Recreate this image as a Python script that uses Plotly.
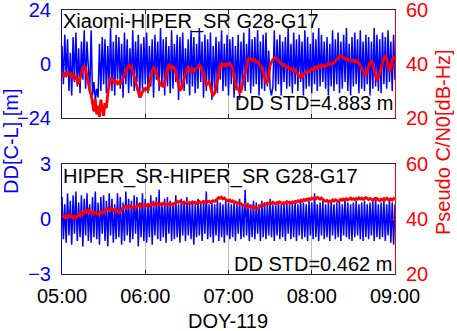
import plotly.graph_objects as go

W, H = 457, 331

# time axis: minutes after 05:00 (one sample per minute, DOY 119)
minutes = list(range(241))
tick_vals = [0, 60, 120, 180, 240]
tick_text = ["05:00", "06:00", "07:00", "08:00", "09:00"]

# Top panel: Xiaomi-HIPER_SR G28-G17, DD code-minus-carrier [m]
dd_top = [
    8, -9, 13, -6, 11, -12, 5, -14, 12, -8,
    14, -10, 7, -13, 10, -7, 15, -11, 10, -5,
    -13, 15, -14, -8, -16, -11, -15, 9, -12, 12,
    -9, 11, -13, 8, -10, 16, -12, 10, -14, 13,
    -7, 12, -11, 9, -15, 14, -9, 11, -13, 7,
    -10, 15, -12, 10, -8, 13, -14, 9, -11, 12,
    -9, 14, -13, 8, -10, 11, -15, 13, -7, 10,
    -12, 16, -9, 11, -14, 12, -10, 8, -13, 15,
    -11, 9, -8, 13, -16, 12, -10, 14, -12, 7,
    -9, 11, -14, 15, -10, 12, -13, 9, -11, 16,
    -8, 10, -15, 13, -12, 11, -9, 14, -16, 8,
    -11, 12, -13, 10, -7, 15, -12, 9, -10, 13,
    -14, 11, -9, 12, -15, 8, -11, 13, -16, 10,
    -10, 14, -12, 9, -8, 16, -13, 11, -10, 12,
    -9, 15, -14, 10, -11, 13, -12, 14, -10, 6,
    -11, -14, -10, 15, -12, 11, -9, 13, -14, 10,
    -8, 12, -11, 16, -10, 9, -13, 14, -9, 11,
    -12, 13, -8, 10, -14, 15, -11, 12, -10, 9,
    -13, 14, -9, 11, -12, 16, -10, 13, -8, 10,
    -11, 12, -14, 9, -10, 15, -12, 11, -9, 14,
    -13, 10, -11, 13, -8, 16, -12, 9, -14, 12,
    -10, 14, -9, 11, -13, 15, -11, 10, -12, 13,
    -9, 12, -14, 10, -11, 16, -10, 13, -12, 11,
    -13, 14, -9, 12, -11, 15, -8, 10, -12, 13,
    -7,
]

# Top panel pseudo C/N0 [dB-Hz]
cn0_top = [
    36.5, 35.2, 36.8, 35.5, 37.2, 36.0, 36.8, 35.4, 35.9, 34.6,
    35.2, 33.4, 32.5, 34.8, 36.9, 38.2, 39.3, 38.4, 35.7, 32.1,
    30.2, 28.6, 25.8, 22.4, 27.1, 21.3, 24.6, 20.4, 26.8, 22.9,
    20.8, 25.5, 23.7, 28.9, 31.8, 35.1, 33.6, 34.2, 32.8, 33.9,
    32.7, 33.3, 32.4, 33.6, 34.5, 35.8, 37.3, 38.6, 39.5, 38.9,
    39.2, 37.4, 35.3, 33.1, 31.2, 28.9, 27.6, 28.3, 29.9, 31.1,
    30.4, 31.3, 30.2, 32.6, 35.4, 37.6, 38.7, 38.2, 37.1, 35.3,
    33.2, 31.9, 32.5, 31.4, 33.2, 35.6, 38.4, 40.1, 38.6, 38.1,
    39.3, 38.4, 36.8, 34.9, 32.3, 30.1, 30.8, 32.6, 34.7, 36.5,
    38.1, 38.8, 37.9, 37.3, 38.0, 37.2, 37.9, 38.4, 39.1, 39.6,
    39.2, 37.8, 35.9, 33.8, 32.1, 32.9, 33.4, 31.6, 29.4, 28.5,
    29.2, 31.3, 34.6, 37.4, 39.6, 40.2, 39.4, 39.8, 39.3, 40.1,
    39.7, 40.2, 39.1, 38.4, 35.2, 32.1, 30.4, 31.2, 29.6, 29.8,
    32.4, 35.1, 37.6, 39.8, 41.6, 42.1, 41.7, 41.9, 41.2, 41.5,
    40.6, 40.9, 40.1, 39.4, 38.6, 37.1, 34.5, 32.8, 33.4, 35.8,
    39.7, 40.8, 41.6, 42.1, 42.4, 41.8, 41.2, 40.6, 40.1, 39.5,
    39.8, 39.1, 38.6, 38.9, 38.2, 38.4, 37.8, 37.4, 37.9, 36.8,
    36.2, 35.3, 35.8, 35.1, 36.2, 36.6, 37.2, 37.5, 37.1, 37.9,
    38.3, 37.8, 38.6, 38.9, 38.4, 39.3, 38.9, 39.5, 39.1, 39.6,
    39.2, 39.8, 40.2, 39.7, 40.3, 40.1, 40.7, 41.2, 41.6, 42.3,
    42.8, 43.1, 42.6, 42.2, 41.8, 42.1, 41.4, 41.7, 41.2, 41.5,
    41.0, 41.4, 40.8, 41.1, 40.3, 39.6, 38.4, 37.1, 36.2, 35.7,
    37.3, 39.2, 40.6, 41.1, 39.8, 38.1, 35.6, 34.2, 34.8, 36.9,
    38.6, 40.4, 42.1, 42.9, 42.3, 38.9, 37.2, 39.1, 41.6, 42.3,
    41.8,
]

# Bottom panel: HIPER_SR-HIPER_SR G28-G17, DD [m]
dd_bot = [
    1.2, -1.1, 0.8, -1.3, 1.4, -0.9, 1.0, -1.4, 1.3, -0.8,
    1.5, -1.2, 0.9, -1.0, 1.3, -1.5, 1.1, -0.9, 1.4, -1.2,
    0.8, -1.3, 1.2, -1.0, 1.5, -1.1, 0.9, -1.4, 1.2, -0.8,
    1.3, -1.2, 1.0, -1.5, 1.4, -0.9, 1.1, -1.3, 0.8, -1.1,
    1.4, -1.0, 1.2, -1.4, 0.9, -1.2, 1.5, -0.9, 1.1, -1.3,
    1.0, -1.1, 1.3, -0.8, 1.2, -1.5, 0.9, -1.0, 1.4, -1.2,
    1.1, -1.3, 0.8, -1.0, 1.3, -1.4, 1.0, -0.9, 1.2, -1.1,
    1.6, -1.2, 0.9, -1.0, 1.1, -1.3, 1.2, -0.8, 1.0, -1.2,
    0.9, -1.1, 1.3, -1.0, 0.8, -1.3, 1.1, -0.9, 1.0, -1.2,
    1.2, -0.9, 0.9, -1.1, 1.0, -1.4, 0.8, -1.0, 1.1, -0.9,
    0.9, -1.2, 1.0, -0.8, 1.5, -1.1, 0.8, -1.0, 1.0, -1.3,
    0.8, -0.9, 1.1, -1.2, 0.9, -1.0, 0.8, -1.3, 1.0, -0.9,
    0.9, -1.1, 0.8, -1.0, 1.0, -1.2, 0.9, -0.8, 1.1, -1.1,
    0.8, -1.0, 1.6, -0.9, 0.9, -1.2, 0.8, -1.0, 1.0, -1.1,
    0.9, -0.8, 0.8, -1.2, 1.0, -1.0, 0.9, -1.1, 0.8, -0.9,
    1.1, -1.0, 0.8, -1.2, 0.9, -0.9, 1.0, -1.1, 0.8, -1.0,
    0.9, -1.2, 1.0, -0.8, 0.8, -1.1, 0.9, -1.0, 1.0, -1.2,
    0.8, -0.9, 1.1, -1.1, 0.9, -1.0, 0.8, -1.2, 1.0, -0.9,
    0.9, -1.1, 1.4, -1.0, 0.8, -1.2, 0.9, -0.9, 1.0, -1.1,
    0.8, -1.0, 0.9, -1.2, 1.0, -0.9, 0.8, -1.1, 0.9, -1.0,
    1.0, -1.2, 0.8, -0.9, 1.1, -1.0, 0.9, -1.1, 0.8, -1.2,
    0.9, -1.0, 1.0, -0.9, 0.8, -1.1, 0.9, -1.2, 1.0, -1.0,
    0.8, -1.1, 0.9, -0.9, 1.0, -1.2, 1.2, -1.0, 0.8, -1.1,
    0.9, -1.0, 1.0, -1.2, 0.8, -0.9, 1.1, -1.3, 0.9, -1.4,
    0.8,
]

# Bottom panel pseudo C/N0 [dB-Hz]
cn0_bot = [
    40.7, 41.3, 40.5, 41.0, 40.2, 41.4, 40.8, 41.1, 40.3, 40.9,
    40.4, 41.2, 41.8, 41.1, 42.2, 41.6, 42.5, 43.1, 42.6, 43.3,
    42.4, 42.0, 42.6, 41.9, 42.4, 42.0, 41.7, 42.3, 42.1, 42.8,
    42.3, 42.9, 43.4, 43.8, 43.2, 44.0, 43.5, 43.1, 43.7, 43.3,
    42.6, 42.2, 42.8, 43.6, 44.1, 44.5, 44.0, 44.6, 44.2, 44.8,
    44.3, 44.1, 44.6, 44.0, 44.7, 45.1, 44.6, 45.3, 44.8, 45.0,
    44.5, 44.9, 45.4, 44.8, 45.2, 45.7, 45.1, 45.6, 45.9, 45.3,
    45.0, 45.5, 45.2, 45.8, 45.4, 45.1, 45.6, 45.3, 45.0, 45.4,
    45.2, 45.7, 46.1, 46.4, 46.0, 46.5, 46.2, 45.8, 46.1, 45.7,
    45.9, 45.6, 46.0, 45.7, 46.2, 45.8, 46.1, 45.6, 45.9, 46.3,
    45.8, 46.0, 46.4, 46.1, 46.6, 46.2, 46.5, 46.0, 46.3, 46.7,
    46.4, 47.0, 47.4, 47.8, 47.5, 47.9, 47.3, 47.6, 47.1, 46.8,
    46.5, 46.9, 46.3, 46.6, 46.0, 46.2, 45.7, 45.9, 45.4, 45.6,
    45.1, 44.8, 45.2, 44.6, 44.3, 44.7, 44.2, 44.5, 43.9, 44.4,
    44.0, 43.8, 44.3, 44.8, 45.2, 44.9, 45.5, 45.3, 45.8, 45.6,
    46.0, 45.7, 46.1, 45.8, 45.5, 46.0, 45.7, 46.2, 45.9, 45.6,
    46.0, 45.8, 46.3, 45.9, 46.1, 45.7, 46.2, 46.0, 46.4, 46.1,
    46.6, 46.3, 46.8, 46.5, 47.0, 46.7, 47.2, 46.9, 47.4, 47.1,
    47.6, 47.3, 47.7, 47.4, 47.9, 47.5, 47.2, 47.6, 47.0, 46.7,
    46.4, 46.8, 46.3, 46.6, 46.2, 46.9, 46.5, 47.0, 46.7, 46.4,
    46.9, 47.2, 46.8, 47.3, 47.0, 47.4, 46.9, 47.2, 47.6, 47.1,
    47.4, 47.0, 47.5, 47.2, 47.7, 47.3, 47.6, 47.1, 47.5, 47.8,
    47.4, 47.1, 47.5, 47.2, 46.8, 47.3, 46.9, 47.4, 47.1, 46.7,
    47.2, 46.9, 47.4, 47.0, 47.6, 47.2, 46.8, 47.3, 46.9, 47.5,
    47.1,
]

BLUE = "#0000FF"
RED = "#FF0000"
FONT = "Liberation Sans, Arial, sans-serif"

def px_x(p):
    return p / W

def px_y(p):
    return 1 - p / H

x_dom = [px_x(62), px_x(395)]
top_dom = [px_y(118), px_y(10)]
bot_dom = [px_y(274), px_y(164)]

fig = go.Figure()
fig.add_trace(go.Scatter(x=minutes, y=dd_top, mode="lines", xaxis="x2", yaxis="y3",
                         line=dict(color=BLUE, width=1.5), showlegend=False))
fig.add_trace(go.Scatter(x=minutes, y=cn0_top, mode="lines", xaxis="x2", yaxis="y4",
                         line=dict(color=RED, width=2.8), showlegend=False))
fig.add_trace(go.Scatter(x=minutes, y=dd_bot, mode="lines", xaxis="x", yaxis="y",
                         line=dict(color=BLUE, width=1.5), showlegend=False))
fig.add_trace(go.Scatter(x=minutes, y=cn0_bot, mode="lines", xaxis="x", yaxis="y2",
                         line=dict(color=RED, width=2.8), showlegend=False))

xcommon = dict(domain=x_dom, range=[0, 240], tickvals=tick_vals, showgrid=True,
               gridcolor="#bdbdbd", gridwidth=1, showline=True, linecolor="#262626",
               linewidth=1, mirror="ticks", ticks="inside", ticklen=4, tickcolor="#262626",
               zeroline=False, automargin=False, ticklabeloverflow="allow",
               tickfont=dict(size=20, color="black", family=FONT))

ycommon = dict(showgrid=False, zeroline=False, showline=True, linewidth=1,
               ticks="inside", ticklen=4, ticklabelstandoff=6, automargin=False,
               ticklabeloverflow="allow")

fig.update_layout(
    width=W, height=H,
    margin=dict(l=0, r=0, t=0, b=0, autoexpand=False),
    paper_bgcolor="white", plot_bgcolor="white",
    font=dict(family=FONT, size=20, color="black"),
    xaxis=dict(xcommon, anchor="y", ticktext=tick_text, ticklabelstandoff=4),
    xaxis2=dict(xcommon, anchor="y3", showticklabels=False),
    yaxis=dict(ycommon, domain=bot_dom, anchor="x", range=[-3, 3], tickvals=[-3, 0, 3],
               linecolor=BLUE, tickcolor=BLUE, tickfont=dict(size=20, color=BLUE, family=FONT)),
    yaxis2=dict(ycommon, overlaying="y", side="right", anchor="x", range=[20, 60],
                tickvals=[20, 40, 60], linecolor=RED, tickcolor=RED,
                tickfont=dict(size=20, color=RED, family=FONT)),
    yaxis3=dict(ycommon, domain=top_dom, anchor="x2", range=[-24, 24], tickvals=[-24, 0, 24],
                linecolor=BLUE, tickcolor=BLUE, tickfont=dict(size=20, color=BLUE, family=FONT)),
    yaxis4=dict(ycommon, overlaying="y3", side="right", anchor="x2", range=[20, 60],
                tickvals=[20, 40, 60], linecolor=RED, tickcolor=RED,
                tickfont=dict(size=20, color=RED, family=FONT)),
)

def ann(text, x, y, xanchor="left", color="black", angle=0):
    fig.add_annotation(text=text, x=px_x(x), y=px_y(y), xref="paper", yref="paper",
                       xanchor=xanchor, yanchor="middle", showarrow=False, textangle=angle,
                       font=dict(size=20, color=color, family=FONT), borderpad=0)

ann("Xiaomi-HIPER_SR G28-G17", 62, 21)
ann("DD STD=4.883 m", 394, 103, xanchor="right")
ann("HIPER_SR-HIPER_SR G28-G17", 62, 176)
ann("DD STD=0.462 m", 393, 264, xanchor="right")
ann("DD[C-L] [m]", 11, 141, xanchor="center", color=BLUE, angle=-90)
ann("Pseudo C/N0[dB-Hz]", 443, 142, xanchor="center", color=RED, angle=-90)
ann("DOY-119", 228, 321, xanchor="center")

fig.write_html(
    "out.html",
    config={"displayModeBar": False},
    post_script="document.body.style.margin='0';document.body.style.overflow='hidden';",
)
